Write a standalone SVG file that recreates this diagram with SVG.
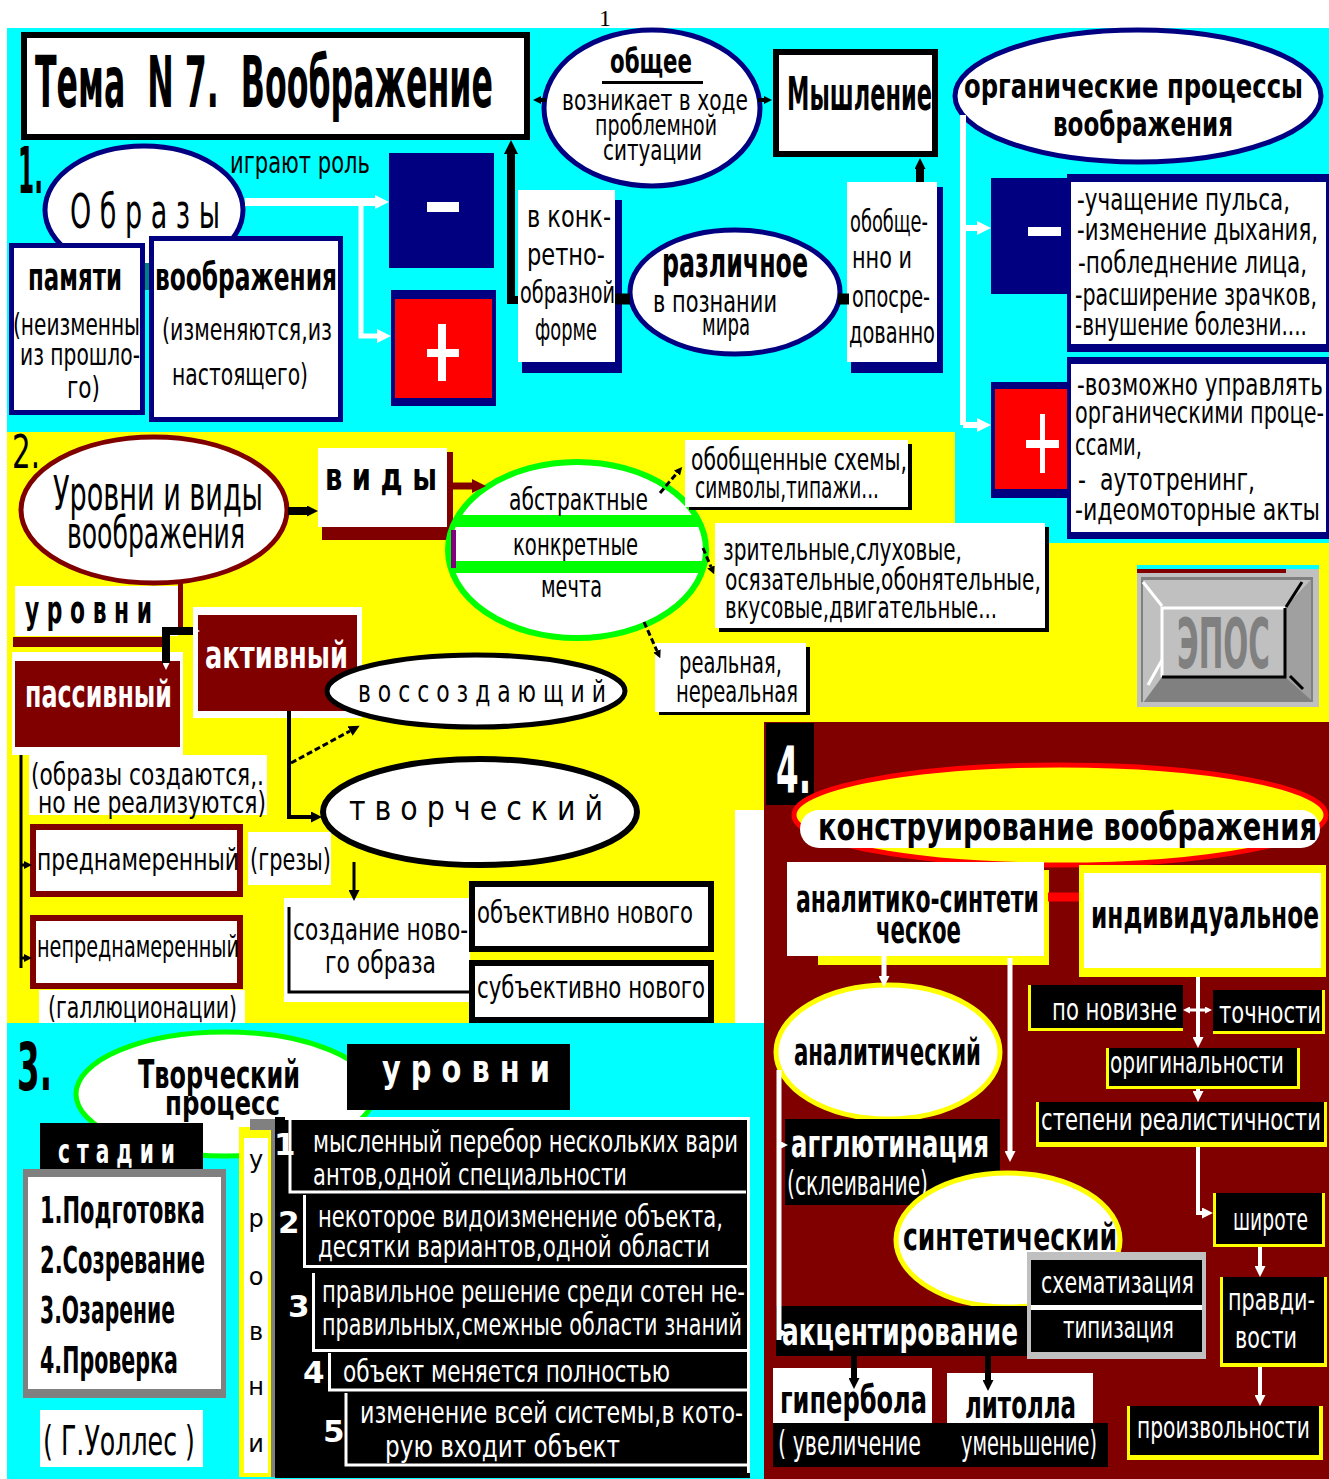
<svg xmlns="http://www.w3.org/2000/svg" width="1329" height="1479" viewBox="0 0 1329 1479">
<style>
text{font-family:"DejaVu Sans","Liberation Sans",sans-serif;fill:#000}
.b{font-weight:bold}
.w{fill:#fff}
.s32{font-size:30px}.s34{font-size:31px}.s36{font-size:33px}.s38{font-size:37px}.s40{font-size:39px}
.cw{fill:none;stroke:#fff}
.cb{fill:none;stroke:#000}
.dash{stroke-dasharray:6 3}
</style>
<defs>
<marker id="mbL" viewBox="0 0 10 10" refX="0" refY="5" markerWidth="14" markerHeight="14" markerUnits="userSpaceOnUse" orient="auto-start-reverse"><path d="M0,0L10,5L0,10z" fill="#000"/></marker>
<marker id="mb" viewBox="0 0 10 10" refX="0" refY="5" markerWidth="11" markerHeight="11" markerUnits="userSpaceOnUse" orient="auto-start-reverse"><path d="M0,0L10,5L0,10z" fill="#000"/></marker>
<marker id="mbS" viewBox="0 0 10 10" refX="0" refY="5" markerWidth="8" markerHeight="8" markerUnits="userSpaceOnUse" orient="auto-start-reverse"><path d="M0,0L10,5L0,10z" fill="#000"/></marker>
<marker id="mwL" viewBox="0 0 10 10" refX="0" refY="5" markerWidth="14" markerHeight="14" markerUnits="userSpaceOnUse" orient="auto-start-reverse"><path d="M0,0L10,5L0,10z" fill="#fff"/></marker>
<marker id="mw" viewBox="0 0 10 10" refX="0" refY="5" markerWidth="11" markerHeight="11" markerUnits="userSpaceOnUse" orient="auto-start-reverse"><path d="M0,0L10,5L0,10z" fill="#fff"/></marker>
<marker id="mwS" viewBox="0 0 10 10" refX="0" refY="5" markerWidth="7" markerHeight="7" markerUnits="userSpaceOnUse" orient="auto-start-reverse"><path d="M0,0L10,5L0,10z" fill="#fff"/></marker>
<marker id="mr" viewBox="0 0 10 10" refX="0" refY="5" markerWidth="14" markerHeight="14" markerUnits="userSpaceOnUse" orient="auto-start-reverse"><path d="M0,0L10,5L0,10z" fill="#800000"/></marker>
</defs>

<g id="backgrounds">
<rect width="1329" height="1479" fill="#fff"/>
<rect x="7" y="28" width="1322" height="404" fill="#00ffff"/>
<rect x="955" y="432" width="374" height="111" fill="#00ffff"/>
<rect x="7" y="432" width="948" height="111" fill="#ffff00"/>
<rect x="7" y="543" width="1322" height="179" fill="#ffff00"/>
<rect x="7" y="722" width="728" height="301" fill="#ffff00"/>
<rect x="735" y="722" width="29" height="88" fill="#ffff00"/>
<rect x="764" y="722" width="565" height="757" fill="#800000"/>
<rect x="7" y="1023" width="757" height="456" fill="#00ffff"/>
<text x="599" y="26" style="font-family:'Liberation Serif',serif;font-size:24px">1</text>
</g>

<!-- Section 1 -->
<g id="title"><rect x="24" y="35" width="503" height="102" fill="#fff" stroke="#000" stroke-width="6"/><text class="b" x="35" y="107" font-size="72" textLength="458" lengthAdjust="spacingAndGlyphs" style="white-space:pre">Тема  N 7.  Воображение</text></g>
<g id="label1"><text class="b" x="18" y="193" font-size="64" textLength="25" lengthAdjust="spacingAndGlyphs">1.</text></g>
<g id="obshee"><ellipse cx="652" cy="108" rx="108" ry="78" fill="#fff" stroke="#000080" stroke-width="5"/>
<text class="b" x="610" y="73" font-size="34" textLength="82" lengthAdjust="spacingAndGlyphs">общее</text>
<rect x="602" y="81" width="101" height="3" fill="#000"/>
<text x="562" y="110" font-size="29" textLength="186" lengthAdjust="spacingAndGlyphs">возникает в ходе</text>
<text x="595" y="135" font-size="29" textLength="122" lengthAdjust="spacingAndGlyphs">проблемной</text>
<text x="603" y="160" font-size="29" textLength="99" lengthAdjust="spacingAndGlyphs">ситуации</text></g>
<g id="myshlenie"><rect x="776" y="52" width="159" height="102" fill="#fff" stroke="#000" stroke-width="6"/><text class="b" x="787" y="110" font-size="46" textLength="145" lengthAdjust="spacingAndGlyphs">Мышление</text></g>
<g id="organic"><ellipse cx="1138" cy="96" rx="183" ry="66" fill="#fff" stroke="#000080" stroke-width="5"/>
<text class="b s36" x="964" y="98" textLength="339" lengthAdjust="spacingAndGlyphs">органические процессы</text>
<text class="b s36" x="1053" y="136" textLength="180" lengthAdjust="spacingAndGlyphs">воображения</text></g>
<g id="obrazy"><ellipse cx="144" cy="210" rx="99" ry="64" fill="#fff" stroke="#000080" stroke-width="5"/>
<text x="70" y="228" font-size="48" textLength="150" lengthAdjust="spacingAndGlyphs">О б р а з ы</text></g>
<g id="igrayut-rol"><text class="s34" x="230" y="173" textLength="140" lengthAdjust="spacingAndGlyphs">играют роль</text></g>
<g id="pamyati"><rect x="11.5" y="245.5" width="131" height="167" fill="#fff" stroke="#000080" stroke-width="5"/>
<text class="b s38" x="28" y="290" textLength="94" lengthAdjust="spacingAndGlyphs">памяти</text>
<text class="s34" x="13" y="335" textLength="127" lengthAdjust="spacingAndGlyphs">(неизменны</text>
<text class="s32" x="20" y="365" textLength="120" lengthAdjust="spacingAndGlyphs">из прошло-</text>
<text class="s34" x="67" y="398" textLength="33" lengthAdjust="spacingAndGlyphs">го)</text></g>
<rect x="145" y="263" width="5" height="27" fill="#008080"/>
<g id="voobrazheniya"><rect x="151.5" y="238.5" width="189" height="181" fill="#fff" stroke="#000080" stroke-width="5"/>
<text class="b s38" x="155" y="290" textLength="182" lengthAdjust="spacingAndGlyphs">воображения</text>
<text class="s34" x="162" y="340" textLength="170" lengthAdjust="spacingAndGlyphs">(изменяются,из</text>
<text class="s34" x="172" y="385" textLength="136" lengthAdjust="spacingAndGlyphs">настоящего)</text></g>
<g id="minus1"><rect x="389" y="153" width="105" height="115" fill="#000080"/><rect x="427" y="202" width="32" height="10" fill="#fff"/></g>
<g id="plus1"><rect x="391" y="290" width="105" height="116" fill="#000080"/><rect x="395" y="299" width="97" height="99" fill="#ff0000"/><rect x="438" y="324" width="8" height="57" fill="#fff"/><rect x="427" y="349" width="32" height="8" fill="#fff"/></g>
<g id="konkretno"><rect x="522" y="200" width="100" height="173" fill="#000080"/><rect x="518" y="190" width="97" height="172" fill="#fff"/>
<text class="s34" x="527" y="227" textLength="84" lengthAdjust="spacingAndGlyphs">в конк-</text>
<text class="s34" x="527" y="265" textLength="78" lengthAdjust="spacingAndGlyphs">ретно-</text>
<text class="s34" x="520" y="303" textLength="95" lengthAdjust="spacingAndGlyphs">образной</text>
<text class="s34" x="535" y="340" textLength="62" lengthAdjust="spacingAndGlyphs">форме</text></g>
<g id="razlichnoe"><ellipse cx="735" cy="292" rx="105" ry="62" fill="#fff" stroke="#000080" stroke-width="5"/>
<text class="b" x="662" y="277" font-size="42" textLength="146" lengthAdjust="spacingAndGlyphs">различное</text>
<text x="653" y="312" font-size="30" textLength="124" lengthAdjust="spacingAndGlyphs">в познании</text>
<text x="702" y="335" font-size="30" textLength="48" lengthAdjust="spacingAndGlyphs">мира</text></g>
<g id="obobshenno"><rect x="851" y="187" width="92" height="186" fill="#000080"/><rect x="847" y="182" width="90" height="180" fill="#fff"/>
<text class="s34" x="850" y="232" textLength="78" lengthAdjust="spacingAndGlyphs">обобще-</text>
<text class="s34" x="852" y="268" textLength="60" lengthAdjust="spacingAndGlyphs">нно и</text>
<text class="s34" x="852" y="307" textLength="78" lengthAdjust="spacingAndGlyphs">опосре-</text>
<text class="s34" x="849" y="343" textLength="86" lengthAdjust="spacingAndGlyphs">дованно</text></g>
<g id="minus2"><rect x="991" y="178" width="77" height="116" fill="#000080"/><rect x="1028" y="227" width="33" height="9" fill="#fff"/></g>
<g id="minus-list"><rect x="1067" y="174" width="262" height="178" fill="#000080"/><rect x="1071" y="182" width="255" height="162" fill="#fff"/>
<text class="s34" x="1077" y="210" textLength="213" lengthAdjust="spacingAndGlyphs">-учащение пульса,</text>
<text class="s34" x="1077" y="240" textLength="241" lengthAdjust="spacingAndGlyphs">-изменение дыхания,</text>
<text class="s34" x="1078" y="273" textLength="229" lengthAdjust="spacingAndGlyphs">-побледнение лица,</text>
<text class="s34" x="1075" y="305" textLength="242" lengthAdjust="spacingAndGlyphs">-расширение зрачков,</text>
<text class="s34" x="1075" y="335" textLength="232" lengthAdjust="spacingAndGlyphs">-внушение болезни....</text></g>
<g id="plus2"><rect x="991" y="382" width="77" height="116" fill="#000080"/><rect x="995" y="389" width="72" height="100" fill="#ff0000"/><rect x="1040" y="414" width="5" height="59" fill="#fff"/><rect x="1026" y="440" width="33" height="8" fill="#fff"/></g>
<g id="plus-list"><rect x="1067" y="357" width="262" height="182" fill="#000080"/><rect x="1071" y="364" width="255" height="168" fill="#fff"/>
<text class="s34" x="1077" y="395" textLength="246" lengthAdjust="spacingAndGlyphs">-возможно управлять</text>
<text class="s34" x="1075" y="423" textLength="249" lengthAdjust="spacingAndGlyphs">органическими проце-</text>
<text class="s34" x="1075" y="455" textLength="67" lengthAdjust="spacingAndGlyphs">ссами,</text>
<text class="s34" x="1078" y="490" textLength="177" lengthAdjust="spacingAndGlyphs" style="white-space:pre">-  аутотренинг,</text>
<text class="s34" x="1075" y="520" textLength="245" lengthAdjust="spacingAndGlyphs">-идеомоторные акты</text></g>

<!-- Section 2 -->
<g id="label2"><text x="12" y="468" font-size="46" textLength="28" lengthAdjust="spacingAndGlyphs">2.</text></g>
<g id="urovni-vidy"><ellipse cx="154" cy="510" rx="133" ry="73" fill="#fff" stroke="#800000" stroke-width="5"/>
<text x="53" y="510" font-size="48" textLength="210" lengthAdjust="spacingAndGlyphs">Уровни и виды</text>
<text x="67" y="548" font-size="44" textLength="178" lengthAdjust="spacingAndGlyphs">воображения</text></g>
<g id="vidy"><rect x="322" y="452" width="131" height="88" fill="#800000"/><rect x="318" y="448" width="129" height="79" fill="#fff"/>
<text class="b s38" x="325" y="490" textLength="112" lengthAdjust="spacingAndGlyphs">в и д ы</text></g>
<g id="vidy-ellipse"><ellipse cx="577" cy="550" rx="129" ry="88" fill="#fff" stroke="#00ff00" stroke-width="6"/>
<rect x="456" y="515" width="242" height="12" fill="#00ff00"/><rect x="452" y="561" width="250" height="12" fill="#00ff00"/>
<rect x="451" y="530" width="5" height="38" fill="#800080"/>
<text class="s34" x="509" y="510" textLength="139" lengthAdjust="spacingAndGlyphs">абстрактные</text>
<text class="s34" x="513" y="555" textLength="125" lengthAdjust="spacingAndGlyphs">конкретные</text>
<text class="s34" x="541" y="597" textLength="61" lengthAdjust="spacingAndGlyphs">мечта</text></g>
<g id="abstr-box"><rect x="689" y="444" width="223" height="66" fill="#000"/><rect x="685" y="440" width="223" height="67" fill="#fff"/>
<text class="s34" x="691" y="470" textLength="216" lengthAdjust="spacingAndGlyphs">обобщенные схемы,</text>
<text class="s34" x="695" y="498" textLength="184" lengthAdjust="spacingAndGlyphs">символы,типажи...</text></g>
<g id="konkr-box"><rect x="719" y="527" width="330" height="105" fill="#000"/><rect x="715" y="523" width="330" height="105" fill="#fff"/>
<text class="s34" x="723" y="560" textLength="239" lengthAdjust="spacingAndGlyphs">зрительные,слуховые,</text>
<text class="s34" x="725" y="590" textLength="316" lengthAdjust="spacingAndGlyphs">осязательные,обонятельные,</text>
<text class="s34" x="725" y="618" textLength="272" lengthAdjust="spacingAndGlyphs">вкусовые,двигательные...</text></g>
<g id="mechta-box"><rect x="659" y="647" width="151" height="68" fill="#000"/><rect x="655" y="643" width="151" height="69" fill="#fff"/>
<text class="s34" x="679" y="673" textLength="103" lengthAdjust="spacingAndGlyphs">реальная,</text>
<text class="s34" x="676" y="702" textLength="122" lengthAdjust="spacingAndGlyphs">нереальная</text></g>
<g id="urovni"><rect x="15" y="586" width="163" height="50" fill="#fff"/><rect x="13" y="637" width="150" height="10" fill="#800000"/>
<text class="b s38" x="25" y="623" textLength="127" lengthAdjust="spacingAndGlyphs">у р о в н и</text></g>
<g id="aktivnyj"><rect x="193" y="607" width="169" height="111" fill="#fff"/><rect x="198" y="615" width="159" height="96" fill="#800000"/>
<text class="b s38 w" x="205" y="668" textLength="143" lengthAdjust="spacingAndGlyphs">активный</text></g>
<g id="passivnyj"><rect x="12" y="652" width="171" height="103" fill="#fff"/><rect x="15" y="661" width="165" height="86" fill="#800000"/>
<text class="b s38 w" x="25" y="707" textLength="147" lengthAdjust="spacingAndGlyphs">пассивный</text></g>
<g id="vossozdayushij"><ellipse cx="476" cy="691" rx="149" ry="36" fill="#fff" stroke="#000" stroke-width="5"/>
<text class="s32" x="358" y="702" textLength="248" lengthAdjust="spacingAndGlyphs">в о с с о з д а ю щ и й</text></g>
<g id="passive-note"><rect x="29" y="755" width="238" height="60" fill="#fff"/>
<text class="s34" x="31" y="785" textLength="233" lengthAdjust="spacingAndGlyphs">(образы создаются,.</text>
<text class="s34" x="38" y="813" textLength="228" lengthAdjust="spacingAndGlyphs">но не реализуются)</text></g>
<g id="prednam"><rect x="33" y="827" width="207" height="67" fill="#fff" stroke="#800000" stroke-width="6"/>
<text class="s34" x="37" y="870" textLength="202" lengthAdjust="spacingAndGlyphs">преднамеренный</text></g>
<g id="grezy"><rect x="248" y="832" width="83" height="53" fill="#fff"/><text class="s34" x="250" y="870" textLength="81" lengthAdjust="spacingAndGlyphs">(грезы)</text></g>
<g id="neprednam"><rect x="33" y="918" width="207" height="68" fill="#fff" stroke="#800000" stroke-width="6"/>
<text class="s34" x="37" y="957" textLength="202" lengthAdjust="spacingAndGlyphs">непреднамеренный</text></g>
<g id="gallyuc"><rect x="39" y="990" width="206" height="33" fill="#fff"/><text class="s34" x="48" y="1018" textLength="189" lengthAdjust="spacingAndGlyphs">(галлюционации)</text></g>
<g id="tvorcheskij"><ellipse cx="480" cy="812" rx="157" ry="53" fill="#fff" stroke="#000" stroke-width="6"/>
<text class="s36" x="349" y="820" textLength="254" lengthAdjust="spacingAndGlyphs">т в о р ч е с к и й</text></g>
<g id="sozdanie"><rect x="284" y="898" width="186" height="104" fill="#fff"/><path d="M289,907V992H470" fill="none" stroke="#000" stroke-width="3"/>
<text class="s34" x="293" y="940" textLength="175" lengthAdjust="spacingAndGlyphs">создание ново-</text>
<text class="s34" x="325" y="973" textLength="111" lengthAdjust="spacingAndGlyphs">го образа</text></g>
<g id="obektivno"><rect x="472" y="884" width="239" height="65" fill="#fff" stroke="#000" stroke-width="6"/>
<text class="s34" x="477" y="923" textLength="216" lengthAdjust="spacingAndGlyphs">объективно нового</text></g>
<g id="subektivno"><rect x="472" y="963" width="239" height="57" fill="#fff" stroke="#000" stroke-width="6"/>
<text class="s34" x="477" y="998" textLength="228" lengthAdjust="spacingAndGlyphs">субъективно нового</text></g>
<g id="logo">
<rect x="1137" y="565" width="182" height="4" fill="#00ffff"/>
<rect x="1137" y="569" width="182" height="138" fill="#c0c0c0"/>
<rect x="1137" y="569" width="149" height="4" fill="#800000"/>
<rect x="1141" y="577" width="172" height="125" fill="#808080"/>
<polygon points="1143,580 1311,580 1285,608 1162,608" fill="#c0c0c0"/>
<polygon points="1143,580 1162,608 1162,677 1143,703" fill="#c0c0c0"/>
<polygon points="1311,580 1311,700 1285,677 1285,608" fill="#a0a0a0"/>
<path d="M1143,582L1162,606M1148,685L1162,660" stroke="#fff" stroke-width="3"/>
<path d="M1302,582L1286,607M1290,676L1303,689" stroke="#000" stroke-width="3"/>
<rect x="1162" y="608" width="123" height="69" fill="#c0c0c0"/>
<path d="M1162,677V608H1285" fill="none" stroke="#fff" stroke-width="3"/>
<path d="M1162,677H1285V608" fill="none" stroke="#000" stroke-width="3"/>
<text class="b" x="1177" y="668" font-size="70" textLength="93" lengthAdjust="spacingAndGlyphs" style="fill:#808080">ЭПОС</text>
</g>

<!-- Section 4 -->
<g id="label4"><rect x="766" y="723" width="48" height="82" fill="#000"/><text class="b w" x="776" y="793" font-size="64" textLength="35" lengthAdjust="spacingAndGlyphs">4.</text></g>
<g id="konstruirovanie"><ellipse cx="1060" cy="815" rx="266" ry="50" fill="#ffff00" stroke="#ff0000" stroke-width="5"/>
<rect x="800" y="810" width="520" height="38" rx="19" fill="#fff"/>
<text class="b s40" x="818" y="840" textLength="499" lengthAdjust="spacingAndGlyphs">конструирование воображения</text></g>
<g id="analitiko"><rect x="818" y="870" width="231" height="95" fill="#ffff00"/><rect x="787" y="862" width="257" height="94" fill="#fff"/>
<text class="b s38" x="796" y="912" textLength="243" lengthAdjust="spacingAndGlyphs">аналитико-синтети</text>
<text class="b s38" x="876" y="943" textLength="85" lengthAdjust="spacingAndGlyphs">ческое</text></g>
<g id="individualnoe"><rect x="1079" y="865" width="247" height="112" fill="#ffff00"/><rect x="1084" y="873" width="237" height="95" fill="#fff"/>
<text class="b s40" x="1091" y="928" textLength="228" lengthAdjust="spacingAndGlyphs">индивидуальное</text></g>
<g id="po-novizne"><rect x="1028" y="985" width="155" height="46" fill="#ffff00"/><rect x="1031" y="985" width="152" height="43" fill="#000"/>
<text class="s34 w" x="1052" y="1020" textLength="125" lengthAdjust="spacingAndGlyphs">по новизне</text></g>
<g id="tochnosti"><rect x="1213" y="990" width="112" height="44" fill="#ffff00"/><rect x="1213" y="990" width="109" height="41" fill="#000"/>
<text class="s34 w" x="1219" y="1023" textLength="102" lengthAdjust="spacingAndGlyphs">точности</text></g>
<g id="originalnosti"><rect x="1106" y="1048" width="194" height="41" fill="#ffff00"/><rect x="1109" y="1048" width="188" height="38" fill="#000"/>
<text class="s34 w" x="1110" y="1073" textLength="174" lengthAdjust="spacingAndGlyphs">оригинальности</text></g>
<g id="stepeni"><rect x="1036" y="1102" width="291" height="45" fill="#ffff00"/><rect x="1039" y="1102" width="285" height="40" fill="#000"/>
<text class="s34 w" x="1041" y="1130" textLength="280" lengthAdjust="spacingAndGlyphs">степени реалистичности</text></g>
<g id="shirote"><rect x="1213" y="1193" width="112" height="54" fill="#ffff00"/><rect x="1216" y="1193" width="106" height="51" fill="#000"/>
<text class="s34 w" x="1233" y="1230" textLength="75" lengthAdjust="spacingAndGlyphs">широте</text></g>
<g id="pravdivosti"><rect x="1220" y="1277" width="107" height="90" fill="#ffff00"/><rect x="1223" y="1277" width="101" height="86" fill="#000"/>
<text class="s34 w" x="1228" y="1310" textLength="87" lengthAdjust="spacingAndGlyphs">правди-</text>
<text class="s34 w" x="1235" y="1348" textLength="62" lengthAdjust="spacingAndGlyphs">вости</text></g>
<g id="proizvolnosti"><rect x="1127" y="1406" width="196" height="54" fill="#ffff00"/><rect x="1130" y="1406" width="189" height="49" fill="#000"/>
<text class="s34 w" x="1137" y="1438" textLength="173" lengthAdjust="spacingAndGlyphs">произвольности</text></g>
<g id="analiticheskij"><ellipse cx="888" cy="1052" rx="112" ry="67" fill="#fff" stroke="#ffff00" stroke-width="5"/>
<text class="b s38" x="794" y="1065" textLength="187" lengthAdjust="spacingAndGlyphs">аналитический</text></g>
<g id="agglyutinaciya"><rect x="785" y="1119" width="215" height="86" fill="#000"/>
<text class="b s40 w" x="791" y="1157" textLength="198" lengthAdjust="spacingAndGlyphs">агглютинация</text>
<text class="s36 w" x="787" y="1195" textLength="141" lengthAdjust="spacingAndGlyphs">(склеивание)</text></g>
<g id="sinteticheskij"><ellipse cx="1008" cy="1240" rx="112" ry="67" fill="#fff" stroke="#ffff00" stroke-width="5"/>
<text class="b s38" x="903" y="1250" textLength="214" lengthAdjust="spacingAndGlyphs">синтетический</text></g>
<g id="shematizaciya"><rect x="1027" y="1252" width="179" height="107" fill="#c0c0c0"/><rect x="1031" y="1260" width="171" height="45" fill="#000"/><rect x="1031" y="1305" width="171" height="5" fill="#fff"/><rect x="1031" y="1310" width="171" height="42" fill="#000"/>
<text class="s34 w" x="1041" y="1293" textLength="153" lengthAdjust="spacingAndGlyphs">схематизация</text>
<text class="s34 w" x="1063" y="1338" textLength="111" lengthAdjust="spacingAndGlyphs">типизация</text></g>
<g id="akcentirovanie"><rect x="776" y="1306" width="251" height="50" fill="#000"/>
<text class="b s40 w" x="782" y="1345" textLength="236" lengthAdjust="spacingAndGlyphs">акцентирование</text></g>
<g id="giperbola"><rect x="773" y="1368" width="159" height="55" fill="#fff"/>
<text class="b s40" x="780" y="1413" textLength="147" lengthAdjust="spacingAndGlyphs">гипербола</text></g>
<g id="litolla"><rect x="947" y="1373" width="146" height="50" fill="#fff"/>
<text class="b s40" x="965" y="1418" textLength="111" lengthAdjust="spacingAndGlyphs">литолла</text></g>
<g id="uvelichenie"><rect x="773" y="1423" width="335" height="44" fill="#000"/>
<text class="s36 w" x="778" y="1455" textLength="143" lengthAdjust="spacingAndGlyphs">( увеличение</text>
<text class="s36 w" x="961" y="1455" textLength="136" lengthAdjust="spacingAndGlyphs">уменьшение)</text></g>

<!-- Section 3 -->
<g id="label3"><text class="b" x="17" y="1090" font-size="66" textLength="35" lengthAdjust="spacingAndGlyphs">3.</text></g>
<g id="tvorcheskij-process"><ellipse cx="225" cy="1094" rx="149" ry="62" fill="#fff" stroke="#00ff00" stroke-width="5"/>
<text class="b s40" x="138" y="1088" textLength="162" lengthAdjust="spacingAndGlyphs">Творческий</text>
<text class="b s36" x="165" y="1115" textLength="115" lengthAdjust="spacingAndGlyphs">процесс</text></g>
<g id="urovni3"><rect x="347" y="1044" width="223" height="66" fill="#000"/>
<text class="b s38 w" x="382" y="1082" textLength="168" lengthAdjust="spacingAndGlyphs">у р о в н и</text></g>
<g id="stadii"><rect x="40" y="1123" width="163" height="47" fill="#000"/>
<text class="b s36 w" x="58" y="1163" textLength="117" lengthAdjust="spacingAndGlyphs">с т а д и и</text></g>
<g id="stages"><rect x="23" y="1169" width="203" height="229" fill="#808080"/><rect x="28" y="1177" width="193" height="212" fill="#fff"/>
<text class="b s38" x="40" y="1223" textLength="165" lengthAdjust="spacingAndGlyphs">1.Подготовка</text>
<text class="b s38" x="40" y="1273" textLength="165" lengthAdjust="spacingAndGlyphs">2.Созревание</text>
<text class="b s38" x="40" y="1323" textLength="135" lengthAdjust="spacingAndGlyphs">3.Озарение</text>
<text class="b s38" x="40" y="1373" textLength="138" lengthAdjust="spacingAndGlyphs">4.Проверка</text></g>
<g id="uolles"><rect x="40" y="1410" width="163" height="57" fill="#fff"/>
<text x="43" y="1455" font-size="40" textLength="152" lengthAdjust="spacingAndGlyphs">( Г.Уоллес )</text></g>
<g id="urovni-vertical"><rect x="239" y="1127" width="33" height="350" fill="#ffff00"/><rect x="244" y="1138" width="24" height="335" fill="#fff"/><rect x="250" y="1119" width="25" height="11" fill="#808080"/><rect x="271" y="1130" width="4" height="347" fill="#808080"/>
<text font-size="24" text-anchor="middle"><tspan x="256" y="1168">у</tspan><tspan x="256" y="1227">р</tspan><tspan x="256" y="1285">о</tspan><tspan x="256" y="1340">в</tspan><tspan x="256" y="1395">н</tspan><tspan x="256" y="1452">и</tspan></text></g>
<g id="levels"><rect x="275" y="1117" width="475" height="361" fill="#000"/>
<path d="M285,1118.5H750M748.5,1117V1473M290,1120V1192H746M304.5,1195V1266.5H747M313.5,1273V1350.5H747M329.5,1353V1390H747M346,1393V1465H747" fill="none" stroke="#fff" stroke-width="3"/>
<text class="b s34 w" x="274" y="1155">1</text>
<text class="b s34 w" x="278" y="1233">2</text>
<text class="b s34 w" x="288" y="1317">3</text>
<text class="b s34 w" x="303" y="1383">4</text>
<text class="b s34 w" x="323" y="1442">5</text>
<text class="s34 w" x="313" y="1152" textLength="425" lengthAdjust="spacingAndGlyphs">мысленный перебор нескольких вари</text>
<text class="s34 w" x="313" y="1185" textLength="314" lengthAdjust="spacingAndGlyphs">антов,одной специальности</text>
<text class="s34 w" x="318" y="1227" textLength="405" lengthAdjust="spacingAndGlyphs">некоторое видоизменение объекта,</text>
<text class="s34 w" x="318" y="1257" textLength="392" lengthAdjust="spacingAndGlyphs">десятки вариантов,одной области</text>
<text class="s34 w" x="322" y="1302" textLength="423" lengthAdjust="spacingAndGlyphs">правильное решение среди сотен не-</text>
<text class="s34 w" x="322" y="1335" textLength="420" lengthAdjust="spacingAndGlyphs">правильных,смежные области знаний</text>
<text class="s34 w" x="343" y="1382" textLength="327" lengthAdjust="spacingAndGlyphs">объект меняется полностью</text>
<text class="s34 w" x="360" y="1423" textLength="383" lengthAdjust="spacingAndGlyphs">изменение всей системы,в кото-</text>
<text class="s34 w" x="385" y="1457" textLength="235" lengthAdjust="spacingAndGlyphs">рую входит объект</text></g>

<g id="connectors">
<path class="cw" d="M245,202H375" stroke-width="8" marker-end="url(#mwL)"/>
<path class="cw" d="M361,202V336H377" stroke-width="5" marker-end="url(#mwL)"/>
<path class="cb" d="M518,300H511V154" stroke-width="8" marker-end="url(#mbL)"/>
<path class="cb" d="M615,299H630" stroke-width="11"/>
<path class="cb" d="M838,299H849" stroke-width="11"/>
<path class="cb" d="M920,182V169" stroke-width="8" marker-end="url(#mb)"/>
<path class="cb" d="M546,100H541" stroke-width="4" marker-end="url(#mbS)"/>
<path class="cb" d="M758,100H764" stroke-width="4" marker-end="url(#mbS)"/>
<path class="cw" d="M963,115V425" stroke-width="6"/>
<path class="cw" d="M963,228H977" stroke-width="6" marker-end="url(#mwL)"/>
<path class="cw" d="M963,425H977" stroke-width="6" marker-end="url(#mwL)"/>
<path class="cb" d="M288,511H307" stroke-width="8" marker-end="url(#mb)"/>
<path d="M452,486H472" fill="none" stroke="#800000" stroke-width="7" marker-end="url(#mr)"/>
<path class="cb dash" d="M660,493L677,473" stroke-width="3" marker-end="url(#mbS)"/>
<path class="cb dash" d="M703,548L711,567" stroke-width="3" marker-end="url(#mbS)"/>
<path class="cb dash" d="M644,622L657,651" stroke-width="3" marker-end="url(#mbS)"/>
<path d="M180.5,583V628" fill="none" stroke="#800000" stroke-width="5"/>
<path class="cb" d="M166,663V631H193" stroke-width="8" marker-start="url(#mwS)" marker-end="url(#mwS)"/>
<path class="cb" d="M289,711V817H311" stroke-width="4" marker-end="url(#mb)"/>
<path class="cb dash" d="M291,763L350,731" stroke-width="3" marker-end="url(#mb)"/>
<path class="cb" d="M354,862V890" stroke-width="3" marker-end="url(#mb)"/>
<path class="cb" d="M21,755V968" stroke-width="3"/>
<path class="cb" d="M21,865H24" stroke-width="3" marker-end="url(#mbS)"/>
<path class="cb" d="M21,958H24" stroke-width="3" marker-end="url(#mbS)"/>
<path d="M1048,897H1079" fill="none" stroke="#ff0000" stroke-width="9"/>
<path class="cw" d="M884,956V976" stroke-width="5" marker-end="url(#mw)"/>
<path class="cw" d="M1010,958V1151" stroke-width="5" marker-end="url(#mw)"/>
<path class="cw" d="M1198,977V1037" stroke-width="4" marker-end="url(#mw)"/>
<path class="cw" d="M1190,1010H1205" stroke-width="3" marker-start="url(#mwS)" marker-end="url(#mwS)"/>
<path class="cw" d="M1198,1089V1091" stroke-width="4" marker-end="url(#mw)"/>
<path class="cw" d="M1198,1147V1213H1202" stroke-width="4" marker-end="url(#mw)"/>
<path class="cw" d="M1260,1247V1266" stroke-width="4" marker-end="url(#mw)"/>
<path class="cw" d="M1260,1367V1395" stroke-width="4" marker-end="url(#mw)"/>
<path class="cw" d="M779,1070V1340" stroke-width="5"/>
<path class="cw" d="M779,1145H781" stroke-width="4" marker-end="url(#mwS)"/>
<path class="cw" d="M779,1333H781" stroke-width="4" marker-end="url(#mwS)"/>
<path class="cb" d="M854,1356V1378" stroke-width="6" marker-end="url(#mb)"/>
<path class="cb" d="M988,1356V1380" stroke-width="6" marker-end="url(#mb)"/>
</g>
</svg>
